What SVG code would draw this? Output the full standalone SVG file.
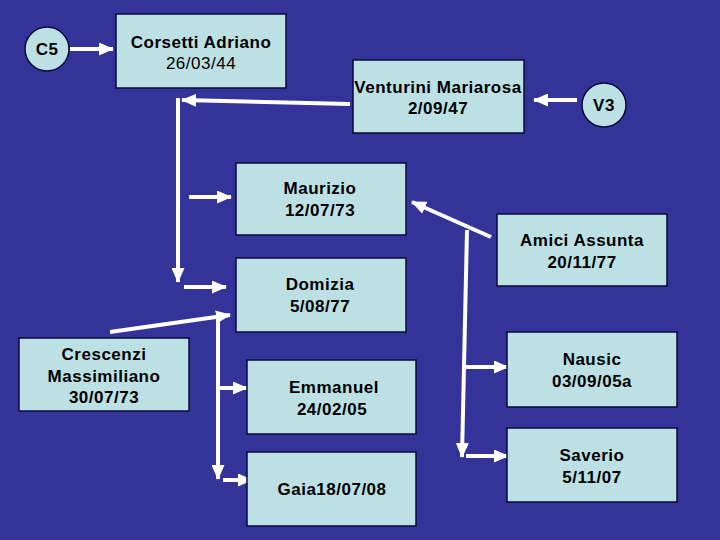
<svg xmlns="http://www.w3.org/2000/svg" width="720" height="540" viewBox="0 0 720 540">
<defs>
<marker id="ah" markerUnits="userSpaceOnUse" markerWidth="15" markerHeight="13" viewBox="0 0 15 13" refX="14" refY="6.5" orient="auto">
<path d="M0,0 L15,6.5 L0,13 z" fill="#ffffff"/>
</marker>
<style>
.box{fill:#bce0e4;stroke:#0a0a3a;stroke-width:1.5}
.t{font-family:"Liberation Sans",Arial,sans-serif;font-size:17px;font-weight:bold;fill:#000;text-anchor:middle;letter-spacing:0.5px}
.n{font-weight:normal}
.c{stroke:#ffffff;stroke-width:4;fill:none;marker-end:url(#ah)}
</style>
</defs>
<rect width="720" height="540" fill="#333399"/>
<g id="connectors">
<line class="c" x1="70" y1="49" x2="113" y2="49"/>
<line class="c" x1="350" y1="104" x2="182" y2="100"/>
<line class="c" x1="178" y1="98" x2="178" y2="282"/>
<line class="c" x1="189" y1="197" x2="231" y2="197"/>
<line class="c" x1="184" y1="287" x2="226" y2="287"/>
<line class="c" x1="577" y1="100" x2="534" y2="100"/>
<line class="c" x1="491" y1="237" x2="412" y2="202"/>
<line class="c" x1="467" y1="230" x2="462" y2="457"/>
<line class="c" x1="466" y1="367" x2="508" y2="367"/>
<line class="c" x1="466" y1="456" x2="508" y2="456"/>
<line class="c" x1="110" y1="332" x2="230" y2="315"/>
<line class="c" x1="218" y1="319" x2="218" y2="479"/>
<line class="c" x1="220" y1="388" x2="247" y2="388"/>
<line class="c" x1="223" y1="480" x2="252" y2="480"/>
</g>
<g id="c5">
<circle class="box" cx="47" cy="49" r="22"/>
<text class="t" x="47" y="55">C5</text>
</g>
<g id="v3">
<circle class="box" cx="604" cy="105" r="22"/>
<text class="t" x="604" y="111">V3</text>
</g>
<g id="corsetti">
<rect class="box" x="116" y="14" width="170" height="74"/>
<text class="t" x="201" y="48">Corsetti Adriano</text>
<text class="t n" x="201" y="69">26/03/44</text>
</g>
<g id="venturini">
<rect class="box" x="353" y="60" width="171" height="73"/>
<text class="t" x="438" y="93">Venturini Mariarosa</text>
<text class="t" x="438" y="114">2/09/47</text>
</g>
<g id="maurizio">
<rect class="box" x="236" y="163" width="170" height="72"/>
<text class="t" x="320" y="194">Maurizio</text>
<text class="t" x="320" y="216">12/07/73</text>
</g>
<g id="domizia">
<rect class="box" x="236" y="258" width="170" height="74"/>
<text class="t" x="320" y="290">Domizia</text>
<text class="t" x="320" y="312">5/08/77</text>
</g>
<g id="amici">
<rect class="box" x="497" y="214" width="170" height="72"/>
<text class="t" x="582" y="246">Amici Assunta</text>
<text class="t" x="582" y="268">20/11/77</text>
</g>
<g id="crescenzi">
<rect class="box" x="19" y="338" width="170" height="73"/>
<text class="t" x="104" y="360">Crescenzi</text>
<text class="t" x="104" y="382">Massimiliano</text>
<text class="t" x="104" y="403">30/07/73</text>
</g>
<g id="emmanuel">
<rect class="box" x="247" y="360" width="169" height="74"/>
<text class="t" x="334" y="393">Emmanuel</text>
<text class="t" x="332" y="415">24/02/05</text>
</g>
<g id="gaia">
<rect class="box" x="247" y="452" width="169" height="74"/>
<text class="t" x="332" y="495">Gaia18/07/08</text>
</g>
<g id="nausic">
<rect class="box" x="507" y="332" width="170" height="75"/>
<text class="t" x="592" y="365">Nausic</text>
<text class="t" x="592" y="387">03/09/05a</text>
</g>
<g id="saverio">
<rect class="box" x="507" y="428" width="170" height="74"/>
<text class="t" x="592" y="461">Saverio</text>
<text class="t" x="592" y="483">5/11/07</text>
</g>
</svg>
